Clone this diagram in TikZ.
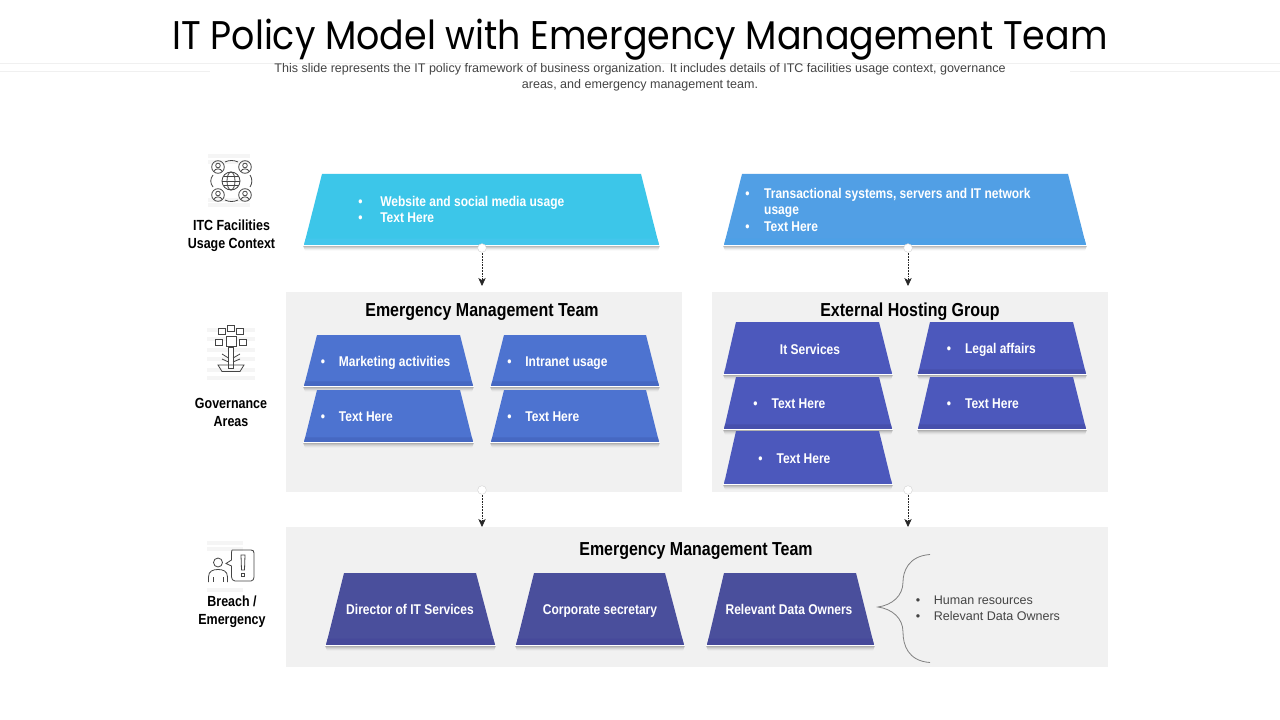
\documentclass[tikz,border=0pt]{standalone}
\usepackage{fontspec}
\setmainfont{Liberation Sans}
\newfontfamily\titlefont[FakeStretch=0.91]{Poppins}
\newfontfamily\narrowfont[FakeStretch=0.85]{Liberation Sans}
\newfontfamily\subfont[FakeStretch=1.0]{Liberation Sans}
\definecolor{panelgray}{HTML}{F1F1F1}
\definecolor{cyanA}{HTML}{3CC6E9}
\definecolor{cyanS}{HTML}{43C6EC}
\definecolor{skyA}{HTML}{519FE5}
\definecolor{skyS}{HTML}{4DA0E6}
\definecolor{blueA}{HTML}{4D73D0}
\definecolor{blueS}{HTML}{4668C2}
\definecolor{indA}{HTML}{4C58BC}
\definecolor{indS}{HTML}{464FAC}
\definecolor{navA}{HTML}{4A4F9C}
\definecolor{navS}{HTML}{46499A}
\definecolor{iconc}{HTML}{444444}
\newcommand{\trapz}[9]{%
  \foreach \k/\op in {1/.10,2/.08,3/.06,4/.04,5/.02}{
    \fill[black,opacity=\op] (#2-1,#7) -- (#3+1,#7) -- (#3+1-\k*.4,#7+\k+.8) -- (#2-1+\k*.4,#7+\k+.8) -- cycle;}
  \fill[#8] (#4,#6) -- (#5,#6) -- (#3,#7) -- (#2,#7) -- cycle;
  \fill[#9] ({#2+(#4-#2)*.09},{#7-(#7-#6)*.09}) -- ({#3+(#5-#3)*.09},{#7-(#7-#6)*.09}) -- (#3,#7) -- (#2,#7) -- cycle;
  \draw[white,line width=.9pt] (#2-1,#7+.7) -- (#3+1,#7+.7);
  \coordinate (#1) at ({(#2+#3)/2},#7);
}
\tikzset{
  heading/.style={font=\narrowfont\bfseries\fontsize{14.1}{16}\selectfont,text=black,inner sep=0pt,anchor=base},
  sidelabel/.style={font=\narrowfont\bfseries\fontsize{11}{13.5}\selectfont,text=black,align=center,inner sep=0pt},
  traptext/.style={font=\narrowfont\bfseries\fontsize{10.6}{12.4}\selectfont,text=white,align=left,inner sep=0pt},
  trapline/.style={traptext,anchor=base west},
  trapcenter/.style={traptext,align=center,anchor=base},
  listtext/.style={font=\subfont\fontsize{9.4}{12}\selectfont,text=iconc,align=left,inner sep=0pt},
  subtitle/.style={font=\subfont\fontsize{9.4}{12}\selectfont,text=iconc,align=center,inner sep=0pt},
  dotnode/.style={circle,fill=white,draw=black!18,line width=.3pt,minimum size=6.5pt,inner sep=0pt},
  flow/.style={draw=black!85,line width=.55pt,dash pattern=on 1.3pt off .8pt,-{Stealth[length=6pt,width=5.5pt,inset=1.6pt]},shorten <=.5pt},
  iconline/.style={draw=iconc,line width=.6pt,fill=none},
  ghost/.style={draw=black!4,line width=2.4pt},
}
\usetikzlibrary{arrows.meta}
\newcommand{\blt}[1]{\makebox[#1][l]{•}}
\begin{document}
\begin{tikzpicture}[x=.75pt,y=-.75pt]
\useasboundingbox (0,0) rectangle (1280,720);
\fill[white] (0,0) rectangle (1280,720);
% header lines
\draw[black!6,line width=.5pt] (0,63.5) -- (1280,63.5);
\draw[black!6,line width=.5pt] (0,71) -- (210,71) (1070,71) -- (1280,71);
\fill[white] (210,64) rectangle (1070,90);
\node[font=\titlefont\fontsize{30}{34}\selectfont,text=black,inner sep=0pt] (title) at (640,40) {IT Policy Model with Emergency Management Team};
\node[subtitle] (sub) at (640,77.5) {This slide represents the IT policy framework of business organization. It includes details of ITC facilities usage context, governance\\areas, and emergency management team.};
% panels
\fill[panelgray] (286,292) rectangle (682,492);
\fill[panelgray] (712,292) rectangle (1108,492);
\fill[panelgray] (286,527) rectangle (1108,667);
\coordinate (panelA) at (482,292);
\coordinate (panelB) at (908,292);
\coordinate (panelC) at (482,527);
\coordinate (panelD) at (908,527);
% row 1
\trapz{t1}{304}{659}{322}{641}{174}{245}{cyanA}{cyanS}
\trapz{t2}{724}{1086}{742}{1068}{174}{245}{skyA}{skyS}
\node[traptext,anchor=west] (t1txt) at (358,209.5) {\blt{16.5pt}Website and social media usage\\\blt{16.5pt}Text Here};
\node[traptext,anchor=west] (t2txt) at (745,209.5) {\blt{14.2pt}Transactional systems, servers and IT network\\\hspace*{14.2pt}usage\\\blt{14.2pt}Text Here};
% row 2 left
\trapz{g1}{304}{473}{317}{460}{335}{386}{blueA}{blueS}
\trapz{g2}{491}{659}{504}{646}{335}{386}{blueA}{blueS}
\trapz{g3}{304}{473}{317}{460}{390}{442}{blueA}{blueS}
\trapz{g4}{491}{659}{504}{646}{390}{442}{blueA}{blueS}
\node[trapline] (g1txt) at (320.5,366) {\blt{13.6pt}Marketing activities};
\node[trapline] (g2txt) at (507,366) {\blt{13.6pt}Intranet usage};
\node[trapline] (g3txt) at (320.5,421) {\blt{13.6pt}Text Here};
\node[trapline] (g4txt) at (507,421) {\blt{13.6pt}Text Here};
% row 2 right
\trapz{h1}{724}{892}{736}{879}{322}{374}{indA}{indA}
\trapz{h2}{918}{1086}{930}{1073}{322}{374}{indA}{indS}
\trapz{h3}{724}{892}{736}{879}{377}{429}{indA}{indS}
\trapz{h4}{918}{1086}{930}{1073}{377}{429}{indA}{indS}
\trapz{h5}{724}{892}{736}{879}{431}{484}{indA}{indA}
\node[trapcenter] (h1txt) at (810,354) {It Services};
\node[trapline] (h2txt) at (946.5,353) {\blt{13.7pt}Legal affairs};
\node[trapline] (h3txt) at (753,408) {\blt{13.7pt}Text Here};
\node[trapline] (h4txt) at (946.5,408) {\blt{13.7pt}Text Here};
\node[trapline] (h5txt) at (758,463) {\blt{13.7pt}Text Here};
% row 3
\trapz{b1}{326}{495}{344}{476}{573}{645}{navA}{navS}
\trapz{b2}{516}{684}{534}{665}{573}{645}{navA}{navS}
\trapz{b3}{707}{874}{724}{856}{573}{645}{navA}{navS}
\node[trapcenter] (b1txt) at (410,614) {Director of IT Services};
\node[trapcenter] (b2txt) at (600,614) {Corporate secretary};
\node[trapcenter] (b3txt) at (789,614) {Relevant Data Owners};
% headings
\node[heading] (hA) at (482,316) {Emergency Management Team};
\node[heading] (hB) at (910,316) {External Hosting Group};
\node[heading] (hC) at (696,555) {Emergency Management Team};
% connectors
\node[dotnode] (d1) at (482,248) {};
\node[dotnode] (d2) at (908,248) {};
\node[dotnode] (d3) at (482,490) {};
\node[dotnode] (d4) at (908,490) {};
\draw[flow] (d1) -- (482,286);
\draw[flow] (d2) -- (908,286);
\draw[flow] (d3) -- (482,527);
\draw[flow] (d4) -- (908,527);
% brace
\draw[draw=black!50,line width=.6pt] (930,554.5) .. controls (908,556) and (903,572) .. (903,582) .. controls (903,596) and (892,605) .. (878,607) .. controls (892,609) and (903,618) .. (903,632) .. controls (903,645) and (908,661) .. (930,662.5);
\node[listtext,anchor=west] (lst) at (915.5,608.5) {\blt{13.6pt}Human resources\\\blt{13.6pt}Relevant Data Owners};
% side labels
\node[sidelabel] (s1) at (231.5,236) {ITC Facilities\\Usage Context};
\node[sidelabel] (s2) at (231,412) {Governance\\Areas};
\node[sidelabel] (s3) at (232,612) {Breach /\\Emergency};
% icon 1
\foreach \yy in {156,162,200,205}{\draw[ghost] (208,\yy) -- (250,\yy);}
\draw[iconline] (231,181) circle (9);
\draw[iconline] (231,181) ellipse (4 and 9);
\draw[iconline] (222,181) -- (240,181) (223.5,176.5) -- (238.5,176.5) (223.5,185.5) -- (238.5,185.5);
\foreach \cx/\cy in {218/167,245/167,218/195,245/195}{
  \draw[iconline] (\cx,\cy) circle (6.3);
  \draw[iconline] (\cx,\cy-1.5) circle (2.3);
  \draw[iconline] (\cx-4,\cy+4.5) .. controls (\cx-3.5,\cy+1) and (\cx+3.5,\cy+1) .. (\cx+4,\cy+4.5);
}
\draw[iconline] (225,162) .. controls (229,160) and (234,160) .. (238,162);
\draw[iconline] (225,200) .. controls (229,202) and (234,202) .. (238,200);
\draw[iconline] (213,175) .. controls (210,179) and (210,183) .. (213,187);
\draw[iconline] (250,175) .. controls (252.5,179) and (252.5,183) .. (250,187);
% icon 2
\foreach \yy in {330,339,350,359,370,378}{\draw[ghost] (207,\yy) -- (255,\yy);}
\foreach \bx/\by in {222/331.5,231/328.5,240/331.5,219/342,243/342}{
  \draw[iconline,fill=white] (\bx-3.5,\by-3) rectangle (\bx+3.5,\by+3);}
\draw[iconline,fill=white] (226,336) rectangle (236,346);
\draw[iconline,fill=white] (228.5,347) rectangle (233,368.5);
\draw[iconline] (228.5,358) -- (222,354) (233,358) -- (240,354) (228.5,362) -- (222,359) (233,362) -- (240,359);
\draw[iconline] (218,365) -- (244,365) -- (240,371.5) -- (222,371.5) -- cycle;
% icon 3
\foreach \yy in {543,549,590}{\draw[ghost] (207,\yy) -- (243,\yy);}
\draw[iconline] (232,550) -- (251,550) .. controls (253,550) and (254,551) .. (254,553) -- (254,577) .. controls (254,579) and (253,581) .. (251,581) -- (235,581) .. controls (233,581) and (231.5,579) .. (231.5,577) -- (231.5,566) -- (226,563.5) -- (231.5,560) -- (231.5,553) .. controls (231.5,551) and (232,550) .. (232,550);
\draw[iconline] (241,555) -- (245,555) -- (244.5,570) -- (241.5,570) -- cycle;
\draw[iconline] (241.3,573) rectangle (244.7,576.5);
\draw[iconline] (218,562.5) circle (4.5);
\draw[iconline] (208.5,582) -- (208.5,577) .. controls (208.5,571) and (213,569.5) .. (218,569.5) .. controls (223,569.5) and (227.5,571) .. (227.5,577) -- (227.5,582);
\draw[iconline] (213,577) -- (213,582) (223,577) -- (223,582);
\end{tikzpicture}
\end{document}
